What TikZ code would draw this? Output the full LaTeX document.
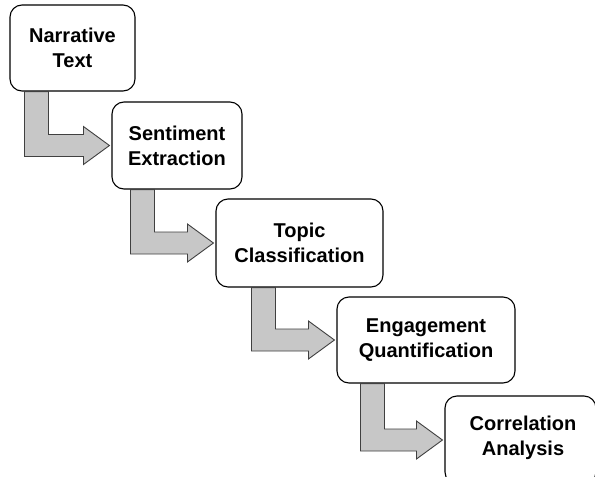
\documentclass[tikz,border=0pt]{standalone}
\usepackage{fontspec}
\setmainfont{Liberation Sans}
\usetikzlibrary{calc}
\newcommand{\stepflow}[3]{%
  \draw[flowarrow] let \p1=(#1.south west), \p2=(#2.west) in
    (\x1+#3pt,\y1) -- (\x1+#3pt+24pt,\y1) -- (\x1+#3pt+24pt,\y2+11pt)
    -- (\x2-28pt,\y2+11pt) -- (\x2-28pt,\y2+19pt) -- (\x2-2pt,\y2)
    -- (\x2-28pt,\y2-19pt) -- (\x2-28pt,\y2-11pt) -- (\x1+#3pt,\y2-11pt) -- cycle;}
\begin{document}
\begin{tikzpicture}[x=1pt,y=1pt,
  stagefont/.style={font=\fontsize{20}{25}\selectfont\bfseries},
  stagebox/.style={draw=black, line width=1.1pt, rounded corners=12pt, fill=white,
    align=center, stagefont, inner sep=0pt},
  flowarrow/.style={draw=black!75, line width=0.9pt, fill=black!22, line join=miter}]
\clip (0,0) rectangle (595,-477);
\fill[white] (0,0) rectangle (595,-477);
\node[stagebox, minimum width=125pt, minimum height=86pt] (n1) at (72.5,-48) {Narrative\\Text};
\node[stagebox, minimum width=130pt, minimum height=87pt] (n2) at (177,-145.5) {Sentiment\\Extraction};
\node[stagebox, minimum width=167pt, minimum height=88pt] (n3) at (299.5,-243) {Topic\\Classification};
\node[stagebox, minimum width=178pt, minimum height=86pt] (n4) at (426,-340) {Engagement\\Quantification};
\node[stagebox, minimum width=151pt, minimum height=88pt] (n5) at (520.5,-440) {};
\node[stagefont, align=center, inner sep=0pt] (t5) at (523,-438) {Correlation\\Analysis};
\stepflow{n1}{n2}{15}
\stepflow{n2}{n3}{19}
\stepflow{n3}{n4}{36}
\stepflow{n4}{n5}{24}
\end{tikzpicture}
\end{document}
